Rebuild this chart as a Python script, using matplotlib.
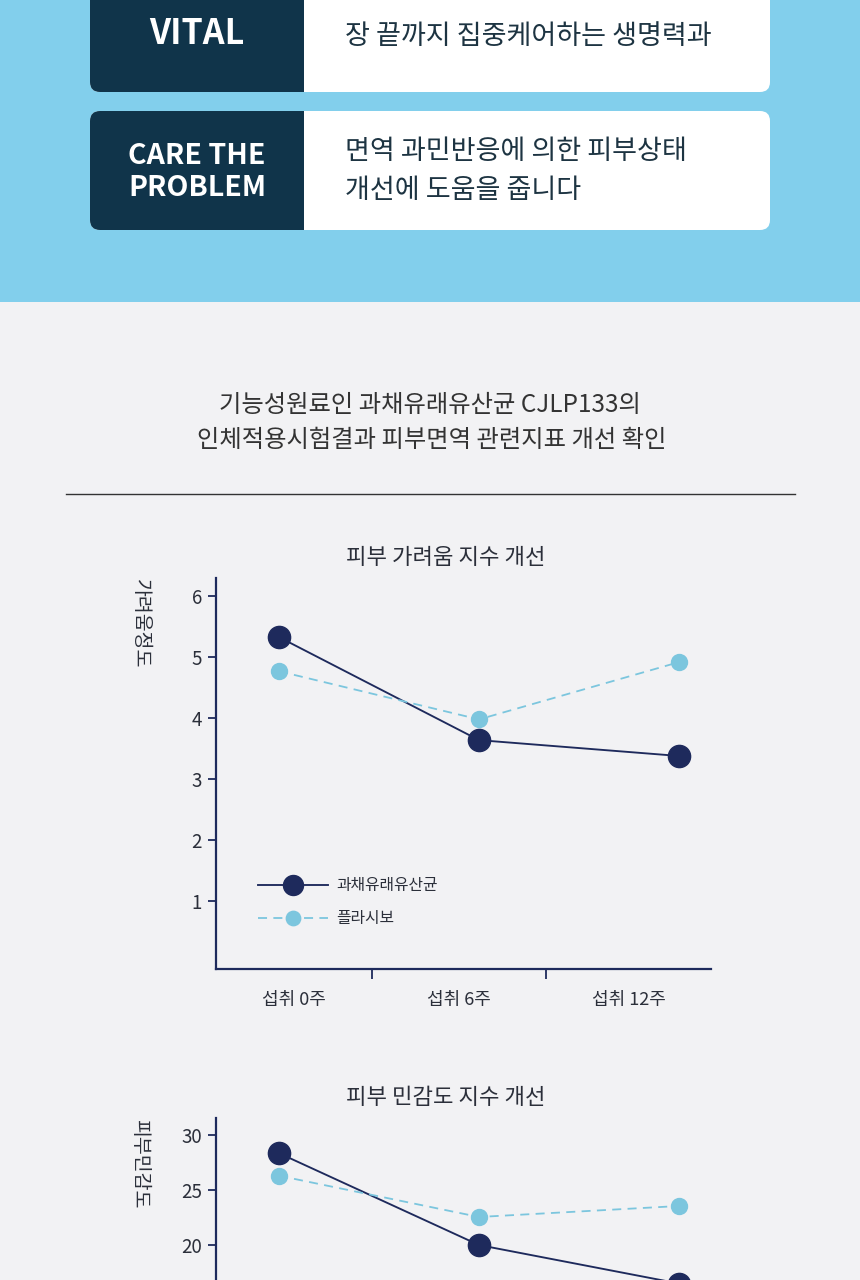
import matplotlib
matplotlib.use("Agg")
import matplotlib.pyplot as plt
from matplotlib.patches import FancyBboxPatch, Rectangle

plt.rcParams['font.family'] = ['Noto Sans CJK KR', 'DejaVu Sans']

# ---------------- data ----------------
categories = ['섭취 0주', '섭취 6주', '섭취 12주']
series_names = ['과채유래유산균', '플라시보']

itch_probiotic = [5.33, 3.64, 3.38]
itch_placebo = [4.77, 3.98, 4.92]

sens_probiotic = [28.35, 20.0, 16.5]
sens_placebo = [26.3, 22.55, 23.55]

itch_ticks = [1, 2, 3, 4, 5, 6]
sens_ticks = [20, 25, 30]   # lower ticks fall below the picture's edge

card_labels = ['VITAL', 'CARE THE\nPROBLEM']
card_texts = ['장 끝까지 집중케어하는 생명력과', '면역 과민반응에 의한 피부상태\n개선에 도움을 줍니다']
header_lines = ['기능성원료인 과채유래유산균 CJLP133의', '인체적용시험결과 피부면역 관련지표 개선 확인']
chart_titles = ['피부 가려움 지수 개선', '피부 민감도 지수 개선']
y_labels = ['가려움정도', '피부민감도']

# ---------------- styles ----------------
W, H = 860, 1280
BG = '#F2F2F4'
BLUE = '#82CFEC'
DARK_CARD = '#10344A'
NAVY = '#1E2A5C'
LIGHT = '#7CC6DE'
TEXT = '#2B2F3A'

fig = plt.figure(figsize=(W / 100, H / 100), dpi=100, facecolor=BG)

bg = fig.add_axes([0, 0, 1, 1], zorder=-1)
bg.set_xlim(0, W)
bg.set_ylim(H, 0)
bg.axis('off')
bg.set_facecolor(BG)

# blue band
bg.add_patch(Rectangle((0, -10), W, 312, facecolor=BLUE, edgecolor='none'))

# cards
cards = [(-30, 92), (111, 230)]
for (top, bot) in cards:
    h = bot - top
    bg.add_patch(FancyBboxPatch((90, top), 680, h, boxstyle='round,pad=0,rounding_size=10',
                                facecolor='white', edgecolor='none'))
    bg.add_patch(FancyBboxPatch((90, top), 240, h, boxstyle='round,pad=0,rounding_size=10',
                                facecolor=DARK_CARD, edgecolor='none'))
    bg.add_patch(Rectangle((304, top), 40, h, facecolor='white', edgecolor='none'))

bg.text(197, 34, card_labels[0], color='white', fontsize=24.5, fontweight='bold',
        ha='center', va='center')
bg.text(197, 172, card_labels[1], color='white', fontsize=20.5, fontweight='bold',
        ha='center', va='center', linespacing=1.15, multialignment='center')
bg.text(345, 36, card_texts[0], color='#1D3442', fontsize=19.5, fontweight='medium',
        ha='left', va='center')
bg.text(345, 171, card_texts[1], color='#1D3442', fontsize=19.5, fontweight='medium',
        ha='left', va='center', linespacing=1.6)

# header
bg.text(430, 405, header_lines[0], color='#333333', fontsize=17.5, ha='center', va='center')
bg.text(432, 440, header_lines[1], color='#333333', fontsize=17.5, ha='center', va='center')
bg.plot([66, 795], [494, 494], color='#333333', lw=1.0)

# chart titles & y labels
bg.text(446, 557, chart_titles[0], color=TEXT, fontsize=16, fontweight='medium',
        ha='center', va='center')
bg.text(446, 1097, chart_titles[1], color=TEXT, fontsize=16, fontweight='medium',
        ha='center', va='center')
bg.text(140, 624, y_labels[0], color=TEXT, fontsize=14, rotation=-90,
        ha='center', va='center')
bg.text(140, 1164, y_labels[1], color=TEXT, fontsize=14, rotation=-90,
        ha='center', va='center')

# ---------------- charts ----------------
x_pos = list(range(len(categories)))
xlim = (-0.315, 2.16)
band_edges = [xlim[0], 0.465, 1.335, xlim[1]]
band_centers = [(a + b) / 2 for a, b in zip(band_edges[:-1], band_edges[1:])]


def make_chart(rect, pro, pla, ticks, ylim, legend=False, xlabels=True):
    ax = fig.add_axes(rect)
    ax.set_facecolor('none')
    ax.plot(x_pos, pro, color=NAVY, lw=1.35, marker='o', markersize=16,
            markerfacecolor=NAVY, markeredgecolor=NAVY, label=series_names[0], zorder=3,
            clip_on=False)
    ax.plot(x_pos, pla, color=LIGHT, lw=1.3, linestyle=(0, (5, 3.5)), marker='o',
            markersize=11.5, markerfacecolor=LIGHT, markeredgecolor=LIGHT,
            label=series_names[1], zorder=3, clip_on=False)
    ax.set_xlim(*xlim)
    ax.set_ylim(*ylim)
    for s in ['top', 'right']:
        ax.spines[s].set_visible(False)
    for s in ['left', 'bottom']:
        ax.spines[s].set_color(NAVY)
        ax.spines[s].set_linewidth(1.6)
    ax.set_yticks(ticks)
    ax.set_yticklabels([str(t) for t in ticks])
    ax.tick_params(axis='y', length=6, width=1.3, color=NAVY, pad=4,
                   labelsize=13.5, labelcolor=TEXT)
    ax.set_xticks(band_edges[1:-1])
    ax.set_xticklabels([])
    ax.tick_params(axis='x', which='major', length=7, width=1.3, color=NAVY)
    if xlabels:
        ax.set_xticks(band_centers, minor=True)
        ax.set_xticklabels(categories, minor=True)
        ax.tick_params(axis='x', which='minor', length=0, pad=16, labelsize=13,
                       labelcolor=TEXT)
    if legend:
        ax.legend(loc='center left', bbox_to_anchor=(0.085, 0.171), frameon=False,
                  fontsize=11.4, handlelength=4.4, handletextpad=0.55,
                  labelspacing=1.0, borderpad=0, borderaxespad=0, numpoints=1,
                  markerscale=0.9, labelcolor=TEXT)
    return ax


left = 216 / W
width = 495 / W
height = 391 / H
make_chart([left, 1 - 969 / H, width, height], itch_probiotic, itch_placebo,
           itch_ticks, (-0.115, 6.3), legend=True)
# second chart continues below the bottom edge of the picture
make_chart([left, 1 - 1509 / H, width, height], sens_probiotic, sens_placebo,
           sens_ticks, (-4.0, 31.55), xlabels=False)

fig.savefig('out.png', dpi=100, facecolor=BG)
